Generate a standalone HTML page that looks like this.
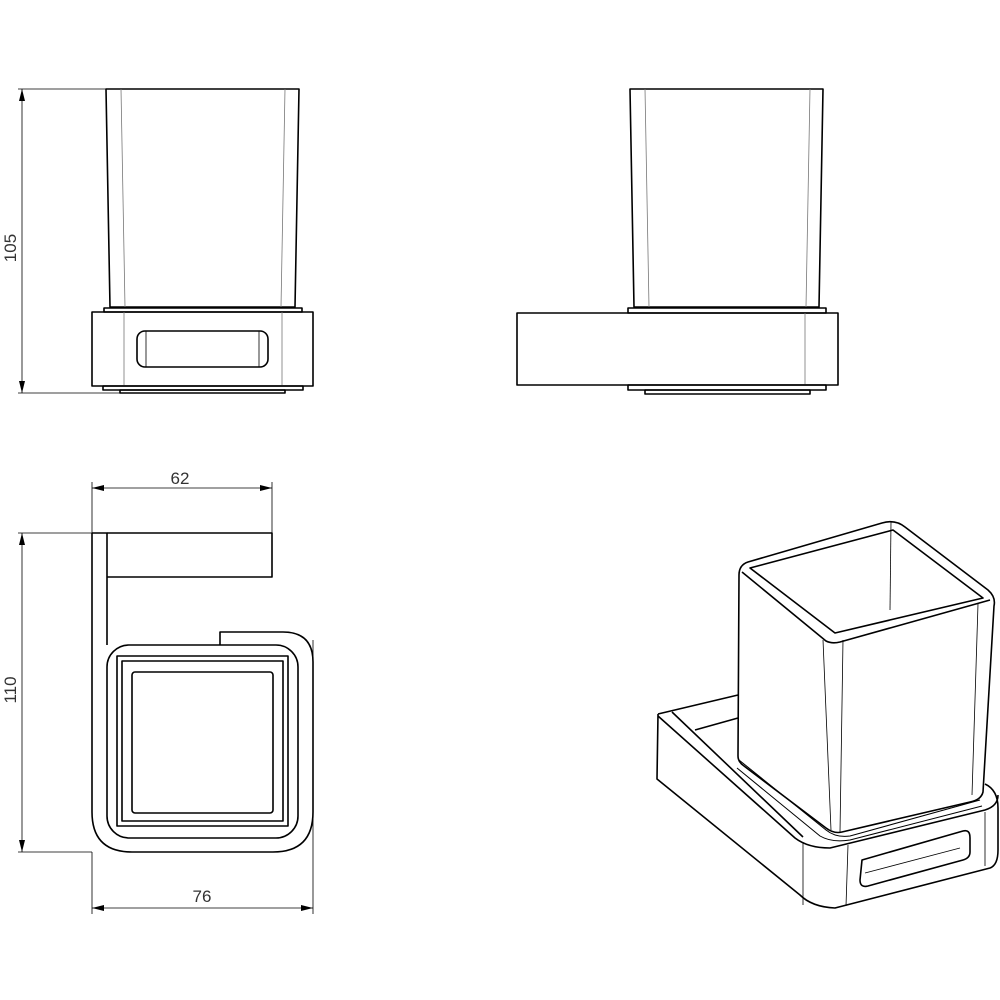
<!DOCTYPE html>
<html><head><style>html,body{margin:0;background:#fff}svg{display:block}</style></head>
<body>
<svg width="1000" height="1000" viewBox="0 0 1000 1000" xmlns="http://www.w3.org/2000/svg" font-family="Liberation Sans, sans-serif">
<defs>
<marker id="a" markerWidth="12" markerHeight="6" refX="12" refY="3" orient="auto-start-reverse" markerUnits="userSpaceOnUse"><path d="M0,0 L12,3 L0,6 Z" fill="#000"/></marker>
</defs>
<g fill="none" stroke="#000" stroke-width="1.6" stroke-linejoin="round">
<!-- Top-left view -->
<path d="M106,89 L299,89 L295,307 L110,307 Z"/>
<path d="M121,89 L125,307 M285,89 L281,307" stroke="#777" stroke-width="0.8"/>
<rect x="104" y="308" width="198" height="4"/>
<rect x="92" y="312" width="221" height="74"/>
<path d="M124,312 V386 M282,312 V386" stroke="#777" stroke-width="0.8"/>
<rect x="137" y="331" width="131" height="36" rx="8"/>
<path d="M146,331 V367 M259,331 V367" stroke-width="0.8"/>
<rect x="103" y="386" width="200" height="4"/>
<rect x="120" y="390" width="165" height="3"/>
<!-- Top-right view -->
<path d="M630,89 L823,89 L819,307 L634,307 Z"/>
<path d="M645,89 L649,307 M810,89 L806,307" stroke="#777" stroke-width="0.8"/>
<rect x="628" y="308" width="198" height="5"/>
<rect x="517" y="313" width="321" height="72"/>
<path d="M805,313 V385" stroke="#777" stroke-width="0.8"/>
<rect x="628" y="385" width="198" height="5"/>
<rect x="645" y="390" width="165" height="4"/>
<!-- Bottom-left view -->
<path d="M107,533 L272,533 L272,577 L107,577"/>
<path d="M92,533 L107,533 L107,645"/>
<path d="M92,533 L92,812 Q92,852 132,852 L273,852 Q313,852 313,812 L313,662 Q313,632 283,632 L220,632 L220,645"/>
<rect x="107" y="645" width="191" height="193" rx="22"/>
<rect x="117" y="656" width="171" height="170"/>
<rect x="122" y="661" width="161" height="160"/>
<rect x="132" y="672" width="141" height="141" rx="3"/>
<!-- Iso view: base -->
<path d="M658,714 L738,695"/>
<path d="M695,730 L738,718"/>
<path d="M658,714 L657,779 L800,895 Q812,907 835,908 L990,868 Q998,865 998,850 L998,808 Q998,790 985,784"/>
<path d="M672,712 L803,837"/>
<path d="M658,716 L795,838 Q808,848 830,848 L985,810 Q998,806 998,795"/>
<path d="M803,842 V905" stroke-width="0.8"/>
<path d="M848,845 L846,906 M985,812 V866" stroke-width="0.8"/>
<path d="M862,860 L963,831 Q970,829 970,838 L970,852 Q970,858 963,860 L868,886 Q860,888 860,880 Z"/>
<path d="M865,873 L960,848" stroke-width="0.8"/>
<!-- cup -->
<path d="M748,562 L882,523 Q895,519 905,527 L988,590 Q996,597 994,606 L983,792 Q981,800 970,802 L842,832 Q834,834 826,828 L744,766 Q738,762 738,756 L739,575 Q739,565 748,562 Z"/>
<path d="M750,568 L893,530 L983,598 L835,633 Z"/>
<path d="M742,572 L826,641 Q832,644 840,642 L990,600" />
<path d="M823,640 L831,830 M843,640 L840,832" stroke-width="0.8"/>
<path d="M891,522 L890,610" stroke-width="0.8"/>
<path d="M978,604 L972,795" stroke-width="0.8"/>
<path d="M739,760 L826,830 Q836,838 850,836 L980,800" stroke-width="1"/>
<path d="M737,768 L820,836 Q832,843 850,840 L982,806" stroke-width="1"/>
</g>
<!-- Dimensions -->
<g stroke="#000" stroke-width="0.8" fill="none">
<path d="M18,89 H106 M18,393 H120"/>
<path d="M22,89 V393" marker-start="url(#a)" marker-end="url(#a)"/>
<path d="M18,533 H92 M18,852 H92"/>
<path d="M22,533 V852" marker-start="url(#a)" marker-end="url(#a)"/>
<path d="M92,482 V533 M272,482 V533"/>
<path d="M92,488 H272" marker-start="url(#a)" marker-end="url(#a)"/>
<path d="M92,852 V914 M313,640 V914"/>
<path d="M92,908 H313" marker-start="url(#a)" marker-end="url(#a)"/>
</g>
<g font-size="17" fill="#333" text-anchor="middle">
<text x="180" y="484">62</text>
<text x="202" y="902">76</text>
<text transform="translate(16,248) rotate(-90)">105</text>
<text transform="translate(16,690) rotate(-90)">110</text>
</g>
</svg>
</body></html>
